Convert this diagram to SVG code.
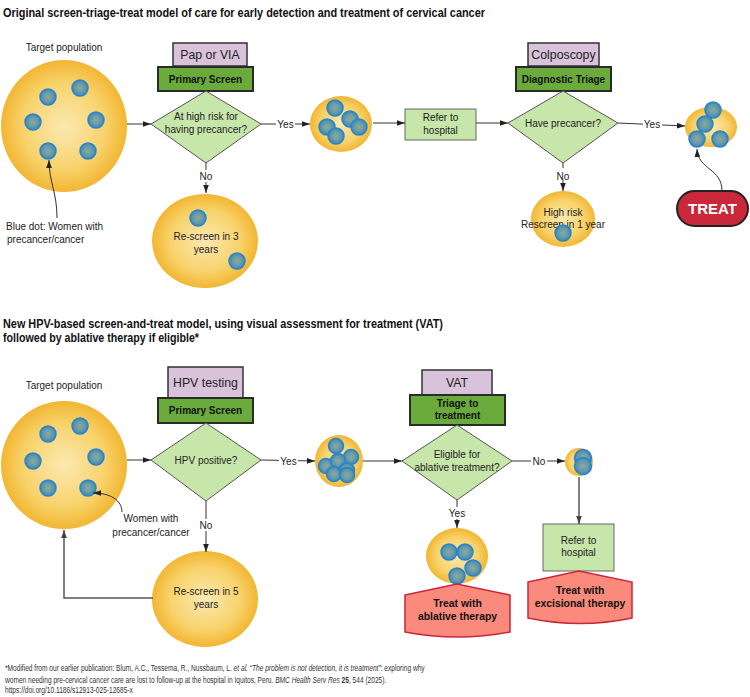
<svg xmlns="http://www.w3.org/2000/svg" width="750" height="697" viewBox="0 0 750 697">
<defs>
<radialGradient id="gy" cx="50%" cy="50%" r="50%">
<stop offset="0" stop-color="#fbe9b2"/>
<stop offset="0.65" stop-color="#f8d36c"/>
<stop offset="1" stop-color="#f2b632"/>
</radialGradient>
<radialGradient id="gb" cx="50%" cy="50%" r="50%">
<stop offset="0" stop-color="#8aab9b"/>
<stop offset="0.65" stop-color="#6399a8"/>
<stop offset="1" stop-color="#3386c4"/>
</radialGradient>
<marker id="arr" viewBox="0 0 10 10" refX="10" refY="5" markerWidth="8" markerHeight="8" markerUnits="userSpaceOnUse" orient="auto">
<path d="M0,1.5 L10,5 L0,8.5 z" fill="#222"/>
</marker>
<marker id="arrg" viewBox="0 0 10 10" refX="10" refY="5" markerWidth="8" markerHeight="8" markerUnits="userSpaceOnUse" orient="auto">
<path d="M0,1.5 L10,5 L0,8.5 z" fill="#444"/>
</marker>
</defs>
<style>
text{font-family:"Liberation Sans",Arial,sans-serif;fill:#222}
.t{font-size:10px;text-anchor:middle}
.tl{font-size:10px}
.ttl{font-size:13.5px;font-weight:bold;fill:#111}
.ttl2{font-size:12.8px;font-weight:bold;fill:#111}
.fn{font-size:9px;fill:#333}
.it{font-style:italic}
.bd{font-weight:bold}
.pur{fill:#d9c3da;stroke:#333;stroke-width:1.5}
.pt{font-size:12.3px;text-anchor:middle}
.grn{fill:#6aab3c;stroke:#2a2a2a;stroke-width:2}
.gt{font-size:10px;font-weight:bold;text-anchor:middle;fill:#111}
.dia{fill:#c7e6aa;stroke:#555;stroke-width:1}
.box{fill:#c7e6aa;stroke:#666;stroke-width:1}
.pop{fill:url(#gy)}
.dot{fill:url(#gb);stroke:#2c84c8;stroke-width:1.5}
.tr{fill:#fa8a7b;stroke:#c8283a;stroke-width:1.5}
.trt{font-size:10.4px;font-weight:bold;text-anchor:middle;fill:#111}
.ln{fill:none;stroke:#333;stroke-width:1}
.lng{fill:none;stroke:#555;stroke-width:1.5}
.lbg{fill:#fff}
</style>

<!-- Titles -->
<text class="ttl" x="3" y="17" textLength="482" lengthAdjust="spacingAndGlyphs">Original screen-triage-treat model of care for early detection and treatment of cervical cancer</text>
<text class="ttl2" x="3" y="327.5" textLength="440" lengthAdjust="spacingAndGlyphs">New HPV-based screen-and-treat model, using visual assessment for treatment (VAT)</text>
<text class="ttl2" x="3" y="342" textLength="196" lengthAdjust="spacingAndGlyphs">followed by ablative therapy if eligible*</text>

<!-- TOP SECTION -->
<g id="target1">
<text class="t" x="64" y="50.5">Target population</text>
<ellipse class="pop" cx="64" cy="126" rx="63" ry="66"/>
<circle class="dot" cx="48" cy="97" r="8"/>
<circle class="dot" cx="80" cy="88" r="8"/>
<circle class="dot" cx="33" cy="122" r="8"/>
<circle class="dot" cx="96" cy="120" r="8"/>
<circle class="dot" cx="48" cy="151" r="8"/>
<circle class="dot" cx="88" cy="151" r="8"/>
</g>
<g id="bluedot-label">
<text class="tl" x="6" y="229.5">Blue dot: Women with</text>
<text class="tl" x="7" y="243">precancer/cancer</text>
</g>
<g id="screen1">
<rect class="pur" x="173" y="43" width="74" height="23"/>
<text class="pt" x="210" y="59">Pap or VIA</text>
<rect class="grn" x="158" y="67" width="95" height="24"/>
<text class="gt" x="205.5" y="82.5">Primary Screen</text>
<polygon class="dia" points="206,91 261,124 206,163 151,124"/>
<text class="t" x="206" y="120">At high risk for</text>
<text class="t" x="206" y="133">having precancer?</text>
</g>
<g id="rescreen3">
<ellipse class="pop" cx="205" cy="241" rx="53" ry="47"/>
<circle class="dot" cx="198" cy="218" r="8"/>
<circle class="dot" cx="237" cy="261" r="8"/>
<text class="t" x="206" y="240">Re-screen in 3</text>
<text class="t" x="206" y="253">years</text>
</g>
<g id="highrisk-group">
<ellipse class="pop" cx="341" cy="124" rx="31" ry="28"/>
<circle class="dot" cx="335" cy="108" r="8"/>
<circle class="dot" cx="327" cy="127" r="8"/>
<circle class="dot" cx="336" cy="136" r="8"/>
<circle class="dot" cx="350" cy="119" r="8"/>
<circle class="dot" cx="359" cy="127" r="8"/>
</g>
<g id="refer1">
<rect class="box" x="405" y="109" width="71" height="31"/>
<text class="t" x="440.5" y="121">Refer to</text>
<text class="t" x="440.5" y="134">hospital</text>
</g>
<g id="triage1">
<rect class="pur" x="528" y="43" width="71" height="23"/>
<text class="pt" x="563.5" y="58.5">Colposcopy</text>
<rect class="grn" x="516" y="67" width="95" height="24"/>
<text class="gt" x="563.5" y="82.5">Diagnostic Triage</text>
<polygon class="dia" points="563,91 618,123 563,163 508,123"/>
<text class="t" x="563" y="127">Have precancer?</text>
</g>
<g id="rescreen1">
<ellipse class="pop" cx="563" cy="219" rx="32" ry="28"/>
<text class="t" x="563" y="215.5">High risk</text>
<text class="t" x="563" y="228">Rescreen in 1 year</text>
<circle class="dot" cx="563" cy="233" r="8"/>
</g>
<g id="precancer-group">
<ellipse class="pop" cx="711" cy="127" rx="26" ry="20"/>
<circle class="dot" cx="713" cy="110" r="8"/>
<circle class="dot" cx="705" cy="124" r="8"/>
<circle class="dot" cx="697" cy="139" r="8"/>
<circle class="dot" cx="720" cy="139" r="8"/>
</g>
<g id="treat">
<rect x="677" y="191" width="71" height="35" rx="17.5" fill="#c8283a" stroke="#222" stroke-width="2"/>
<text x="712.5" y="213.5" font-size="15" font-weight="bold" text-anchor="middle" style="fill:#fff">TREAT</text>
</g>

<!-- BOTTOM SECTION -->
<g id="target2">
<text class="t" x="64" y="389">Target population</text>
<ellipse class="pop" cx="64" cy="465" rx="63" ry="64"/>
<circle class="dot" cx="48" cy="434" r="8"/>
<circle class="dot" cx="80" cy="426" r="8"/>
<circle class="dot" cx="33" cy="461" r="8"/>
<circle class="dot" cx="96" cy="457" r="8"/>
<circle class="dot" cx="48" cy="488" r="8"/>
<circle class="dot" cx="88" cy="488" r="8"/>
</g>
<g id="women-label">
<text class="t" x="151" y="521.5">Women with</text>
<text class="t" x="151" y="535.5">precancer/cancer</text>
</g>
<g id="screen2">
<rect class="pur" x="168" y="367" width="75" height="31"/>
<text class="pt" x="205.5" y="386.5">HPV testing</text>
<rect class="grn" x="158" y="398" width="95" height="25"/>
<text class="gt" x="205.5" y="413.5">Primary Screen</text>
<polygon class="dia" points="206,423 261,460 206,501 151,460"/>
<text class="t" x="206" y="464">HPV positive?</text>
</g>
<g id="rescreen5">
<ellipse class="pop" cx="205" cy="599" rx="53" ry="48"/>
<text class="t" x="206" y="595">Re-screen in 5</text>
<text class="t" x="206" y="607.5">years</text>
</g>
<g id="hpvpos-group">
<ellipse class="pop" cx="339" cy="461" rx="24" ry="26"/>
<circle class="dot" cx="336" cy="446" r="7.5"/>
<circle class="dot" cx="351" cy="457" r="7.5"/>
<circle class="dot" cx="326" cy="466" r="7.5"/>
<circle class="dot" cx="338" cy="461" r="7.5"/>
<circle class="dot" cx="334" cy="474" r="7.5"/>
<circle class="dot" cx="347" cy="470" r="7.5"/>
<circle class="dot" cx="347" cy="475" r="7.5"/>
</g>
<g id="triage2">
<rect class="pur" x="422" y="370" width="70" height="25"/>
<text class="pt" x="457" y="386.5">VAT</text>
<rect class="grn" x="410" y="395" width="95" height="30"/>
<text class="gt" x="457.5" y="407">Triage to</text>
<text class="gt" x="457.5" y="419">treatment</text>
<polygon class="dia" points="457,425 512,461 457,500 402,461"/>
<text class="t" x="457" y="458">Eligible for</text>
<text class="t" x="457" y="471">ablative treatment?</text>
</g>
<g id="eligible-group">
<ellipse class="pop" cx="457" cy="556" rx="31" ry="28"/>
<circle class="dot" cx="449" cy="552" r="8"/>
<circle class="dot" cx="465" cy="552" r="8"/>
<circle class="dot" cx="473" cy="568" r="8"/>
<circle class="dot" cx="457" cy="576" r="8"/>
</g>
<g id="treat-ablative">
<path class="tr" d="M405,595 L457,584 L510,595 L510,632 Q457,642 405,632 Z"/>
<text class="trt" x="457.5" y="607">Treat with</text>
<text class="trt" x="457.5" y="620">ablative therapy</text>
</g>
<g id="noteligible-group">
<ellipse class="pop" cx="579" cy="462" rx="14" ry="14"/>
<circle class="dot" cx="583" cy="458" r="8.5"/>
<circle class="dot" cx="583" cy="466" r="8.5"/>
</g>
<g id="refer2">
<rect class="box" x="543" y="524" width="71" height="47"/>
<text class="t" x="578.5" y="543.5">Refer to</text>
<text class="t" x="578.5" y="556">hospital</text>
</g>
<g id="treat-excisional">
<path class="tr" d="M528,582 L579,571 L632,582 L632,618 Q580,629 528,618 Z"/>
<text class="trt" x="580" y="594">Treat with</text>
<text class="trt" x="580" y="606.5">excisional therapy</text>
</g>

<!-- Connectors -->
<g id="connectors">
<line class="ln" x1="127" y1="124" x2="151" y2="124" marker-end="url(#arr)"/>
<line class="ln" x1="261" y1="124" x2="310" y2="124" marker-end="url(#arr)"/>
<line class="ln" x1="206" y1="163" x2="206" y2="193" marker-end="url(#arr)"/>
<line class="ln" x1="373" y1="123" x2="405" y2="123" marker-end="url(#arr)"/>
<line class="ln" x1="476" y1="123" x2="508" y2="123" marker-end="url(#arr)"/>
<line class="ln" x1="618" y1="123" x2="685" y2="126" marker-end="url(#arr)"/>
<line class="ln" x1="563" y1="163" x2="563" y2="191" marker-end="url(#arr)"/>
<path class="ln" d="M722,191 C722,168 698,170 697,149" marker-end="url(#arr)"/>
<path class="ln" d="M57,218 C57,192 49,182 49,160" marker-end="url(#arr)"/>

<line class="ln" x1="127" y1="460" x2="151" y2="460" marker-end="url(#arr)"/>
<line class="ln" x1="261" y1="460" x2="315" y2="461" marker-end="url(#arr)"/>
<line class="ln" x1="206" y1="501" x2="206" y2="552" marker-end="url(#arr)"/>
<path class="lng" d="M153,598 L64,598 L64,530" marker-end="url(#arrg)"/>
<path class="ln" d="M122,512 C122,500 110,493 93,493" marker-end="url(#arr)"/>
<line class="ln" x1="363" y1="461" x2="402" y2="461" marker-end="url(#arr)"/>
<line class="ln" x1="457" y1="500" x2="457" y2="528" marker-end="url(#arr)"/>
<line class="ln" x1="512" y1="461" x2="565" y2="461" marker-end="url(#arr)"/>
<line class="lng" x1="579" y1="477" x2="579" y2="524" marker-end="url(#arrg)"/>

<rect class="lbg" x="276" y="117" width="19" height="13"/>
<text class="t" x="285.5" y="127.5">Yes</text>
<rect class="lbg" x="198" y="170" width="16" height="12"/>
<text class="t" x="206" y="180">No</text>
<rect class="lbg" x="643" y="118" width="19" height="12"/>
<text class="t" x="652" y="128">Yes</text>
<rect class="lbg" x="555" y="168" width="16" height="12"/>
<text class="t" x="563" y="179.5">No</text>

<rect class="lbg" x="279" y="454" width="19" height="13"/>
<text class="t" x="288.5" y="464.5">Yes</text>
<rect class="lbg" x="198" y="519" width="16" height="12"/>
<text class="t" x="206" y="528.5">No</text>
<rect class="lbg" x="447" y="507" width="20" height="12"/>
<text class="t" x="457" y="517">Yes</text>
<rect class="lbg" x="531" y="455" width="16" height="12"/>
<text class="t" x="539" y="464.5">No</text>
</g>

<!-- Footnote -->
<g id="footnote" transform="translate(5,0) scale(0.735,1)">
<text class="fn" x="0" y="671.5">*Modified from our earlier publication: Blum, A.C., Tessema, R., Nussbaum, L. <tspan class="it">et al. “The problem is not detection, it is treatment”</tspan>: exploring why</text>
<text class="fn" x="0" y="683">women needing pre-cervical cancer care are lost to follow-up at the hospital in Iquitos, Peru. <tspan class="it">BMC Health Serv Res</tspan> <tspan class="bd">25</tspan>, 544 (2025).</text>
<text class="fn" x="0" y="693.5">https://doi.org/10.1186/s12913-025-12685-x</text>
</g>
</svg>
